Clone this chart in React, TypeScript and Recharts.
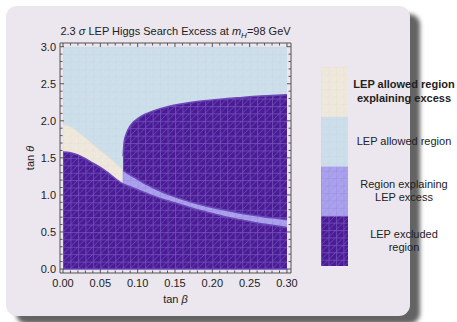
import { ComposedChart, Area, XAxis, YAxis } from 'recharts';

// sample points along tan β shared by every boundary curve
const tanBeta = [0, 0.01, 0.02, 0.03, 0.04, 0.05, 0.06, 0.07, 0.08, 0.0805, 0.082, 0.085, 0.09, 0.095, 0.1, 0.11, 0.12, 0.14, 0.16, 0.18, 0.2, 0.22, 0.24, 0.26, 0.28, 0.3];

// top of the lower excluded region (tan θ)
const excludedLow = [1.58, 1.57, 1.54, 1.49, 1.43, 1.37, 1.3, 1.22, 1.15, 1.148, 1.14, 1.13, 1.11, 1.09, 1.07, 1.03, 0.99, 0.92, 0.86, 0.8, 0.75, 0.7, 0.66, 0.62, 0.59, 0.56];

// top of the allowed region that explains the excess (tan β <= 0.08)
const allowedExcessTop = [1.95, 1.92, 1.85, 1.77, 1.68, 1.6, 1.52, 1.43, 1.34, null, null, null, null, null, null, null, null, null, null, null, null, null, null, null, null, null];

// top of the excess band inside the excluded region (tan β >= 0.08)
const excessBandTop = [null, null, null, null, null, null, null, null, 1.33, 1.33, 1.32, 1.3, 1.27, 1.24, 1.21, 1.15, 1.1, 1.01, 0.94, 0.88, 0.83, 0.79, 0.75, 0.72, 0.69, 0.665];

// top of the upper excluded region
const excludedHigh = [null, null, null, null, null, null, null, null, null, 1.52, 1.72, 1.83, 1.93, 1.99, 2.03, 2.09, 2.13, 2.19, 2.23, 2.26, 2.28, 2.3, 2.315, 2.33, 2.34, 2.35];

// scanned tan θ range
const scanRange = [0, 3];

const xTicks = Array.from({ length: 31 }, (_, i) => i / 100);
const yTicks = Array.from({ length: 31 }, (_, i) => i / 10);

const legendItems = [
    { lines: ['LEP allowed region', 'explaining excess'], fill: 'lgCream', bold: true },
    { lines: ['LEP allowed region'], fill: 'lgBlue', bold: false },
    { lines: ['Region explaining', 'LEP excess'], fill: 'lgBand', bold: false },
    { lines: ['LEP excluded', 'region'], fill: 'lgDark', bold: false },
];

const rows = tanBeta.map((x, i) => ({
    x,
    allowed: scanRange,
    low: [0, excludedLow[i]],
    cream: allowedExcessTop[i] == null ? null : [excludedLow[i], allowedExcessTop[i]],
    band: excessBandTop[i] == null ? null : [excludedLow[i], excessBandTop[i]],
    high: excludedHigh[i] == null ? null : [excessBandTop[i], excludedHigh[i]],
}));

const FONT = '"Liberation Sans", Arial, sans-serif';
const FRAME = '#555';
const CELL_W = 224 / 30;
const CELL_H = 222.3 / 30;

const near = (v: number, step: number) => Math.abs(v / step - Math.round(v / step)) < 1e-6;

function Mesh({ id, base, line, opacity, x = 63, y = 46.7 }: any) {
    return (
        <pattern id={id} patternUnits="userSpaceOnUse" x={x} y={y} width={CELL_W} height={CELL_H}>
            <rect width={CELL_W} height={CELL_H} fill={base} />
            <path
                d={`M0 0.5H${CELL_W}M0.5 0V${CELL_H}M0 ${CELL_H}L${CELL_W} 0`}
                stroke={line}
                strokeOpacity={opacity}
                strokeWidth={0.9}
                fill="none"
            />
        </pattern>
    );
}

const meshes = (prefix: string, x?: number, y?: number) => [
    <Mesh key="c" id={`${prefix}Cream`} base="#efe8dc" line="#e4ddd0" opacity={0.35} x={x} y={y} />,
    <Mesh key="b" id={`${prefix}Blue`} base="#cddfea" line="#c2d5e5" opacity={0.3} x={x} y={y} />,
    <Mesh key="p" id={`${prefix}Band`} base="#aba2ee" line="#9b90e0" opacity={0.7} x={x} y={y} />,
    <Mesh key="d" id={`${prefix}Dark`} base="#4a1b95" line="#7150ba" opacity={0.9} x={x} y={y} />,
];

function BottomTick({ x, y, payload }: any) {
    const major = near(payload.value, 0.05);
    return (
        <g>
            <line x1={x} x2={x} y1={y} y2={y - (major ? 4 : 2.5)} stroke={FRAME} />
            {major && (
                <text x={x} y={y + 13.5} textAnchor="middle" fontSize={11} fontFamily={FONT} fill="#222">
                    {payload.value.toFixed(2)}
                </text>
            )}
        </g>
    );
}

function TopTick({ x, y, payload }: any) {
    const major = near(payload.value, 0.05);
    return <line x1={x} x2={x} y1={y} y2={y + (major ? 4 : 2.5)} stroke={FRAME} />;
}

function LeftTick({ x, y, payload }: any) {
    const major = near(payload.value, 0.5);
    return (
        <g>
            <line x1={x} x2={x + (major ? 4 : 2.5)} y1={y} y2={y} stroke={FRAME} />
            {major && (
                <text x={x - 4} y={y + 4} textAnchor="end" fontSize={11} fontFamily={FONT} fill="#222">
                    {payload.value.toFixed(1)}
                </text>
            )}
        </g>
    );
}

function RightTick({ x, y, payload }: any) {
    const major = near(payload.value, 0.5);
    return <line x1={x} x2={x - (major ? 4 : 2.5)} y1={y} y2={y} stroke={FRAME} />;
}

export default function App() {
    return (
        <div style={{ position: 'absolute', left: 0, top: 0, width: 457, height: 322, background: '#fff', fontFamily: FONT, color: '#222' }}>
            <div
                style={{
                    position: 'absolute', left: 6, top: 6, width: 404, height: 310,
                    background: '#ece6ee', borderRadius: 11,
                    boxShadow: '10px 8px 4px rgba(60,60,60,0.8)',
                }}
            />
            <ComposedChart
                width={457}
                height={322}
                data={rows}
                margin={{ top: 38, left: 20, right: 161, bottom: 19 }}
                style={{ position: 'absolute', left: 0, top: 0 }}
            >
                <defs>{meshes('m')}</defs>
                <XAxis
                    xAxisId="b" dataKey="x" type="number" domain={[-0.004, 0.3054]} ticks={xTicks}
                    interval={0} tickSize={0} tickMargin={0} height={30} tick={<BottomTick />}
                    axisLine={{ stroke: FRAME }} tickLine={false} allowDataOverflow
                />
                <XAxis
                    xAxisId="t" dataKey="x" type="number" orientation="top" domain={[-0.004, 0.3054]} ticks={xTicks}
                    interval={0} tickSize={0} tickMargin={0} height={5} tick={<TopTick />}
                    axisLine={{ stroke: FRAME }} tickLine={false} allowDataOverflow
                />
                <YAxis
                    yAxisId="l" type="number" domain={[-0.054, 3.05]} ticks={yTicks}
                    interval={0} tickSize={0} tickMargin={0} width={40} tick={<LeftTick />}
                    axisLine={{ stroke: FRAME }} tickLine={false} allowDataOverflow
                />
                <YAxis
                    yAxisId="r" type="number" orientation="right" domain={[-0.054, 3.05]} ticks={yTicks}
                    interval={0} tickSize={0} tickMargin={0} width={5} tick={<RightTick />}
                    axisLine={{ stroke: FRAME }} tickLine={false} allowDataOverflow
                />
                <Area xAxisId="b" yAxisId="l" dataKey="allowed" type="linear" fill="url(#mBlue)" fillOpacity={1} stroke="none" isAnimationActive={false} />
                <Area xAxisId="b" yAxisId="l" dataKey="cream" type="monotone" fill="url(#mCream)" fillOpacity={1} stroke="#e6dfd8" strokeWidth={1} isAnimationActive={false} />
                <Area xAxisId="b" yAxisId="l" dataKey="band" type="monotone" fill="url(#mBand)" fillOpacity={1} stroke="none" isAnimationActive={false} />
                <Area xAxisId="b" yAxisId="l" dataKey="low" type="monotone" fill="url(#mDark)" fillOpacity={1} stroke="#6d48b8" strokeWidth={1.5} isAnimationActive={false} />
                <Area xAxisId="b" yAxisId="l" dataKey="high" type="monotone" fill="url(#mDark)" fillOpacity={1} stroke="#6d48b8" strokeWidth={1.5} isAnimationActive={false} />
            </ComposedChart>

            <div style={{ position: 'absolute', left: 40, width: 271, top: 24, textAlign: 'center', fontSize: 11, lineHeight: '14px', whiteSpace: 'nowrap' }}>
                2.3 <i>σ</i> LEP Higgs Search Excess at <i>m</i>
                <span style={{ fontSize: 8, position: 'relative', top: 3, fontStyle: 'italic' }}>H</span>=98 GeV
            </div>
            <div style={{ position: 'absolute', left: 60, width: 231, top: 292, textAlign: 'center', fontSize: 11, lineHeight: '14px' }}>
                tan <i>β</i>
            </div>
            <div
                style={{
                    position: 'absolute', left: 30, top: 158, fontSize: 11, lineHeight: '14px', whiteSpace: 'nowrap',
                    transform: 'translate(-50%, -50%) rotate(-90deg)',
                }}
            >
                tan <i>θ</i>
            </div>

            <svg width={27} height={199} style={{ position: 'absolute', left: 321, top: 67 }}>
                <defs>{meshes('lg', 0, 0)}</defs>
                {legendItems.map((item, i) => (
                    <rect key={item.fill} x={0} y={i * 49.75} width={27} height={49.75} fill={`url(#${item.fill})`} />
                ))}
            </svg>
            {legendItems.map((item, i) => (
                <div
                    key={item.fill}
                    style={{
                        position: 'absolute', left: 349, width: 110, top: 67 + i * 49.75, height: 49.75,
                        display: 'flex', alignItems: 'center', justifyContent: 'center', textAlign: 'center',
                        fontSize: 11, lineHeight: '13.5px', fontWeight: item.bold ? 'bold' : 'normal',
                    }}
                >
                    <div>
                        {item.lines.map((l) => (
                            <div key={l}>{l}</div>
                        ))}
                    </div>
                </div>
            ))}
        </div>
    );
}
